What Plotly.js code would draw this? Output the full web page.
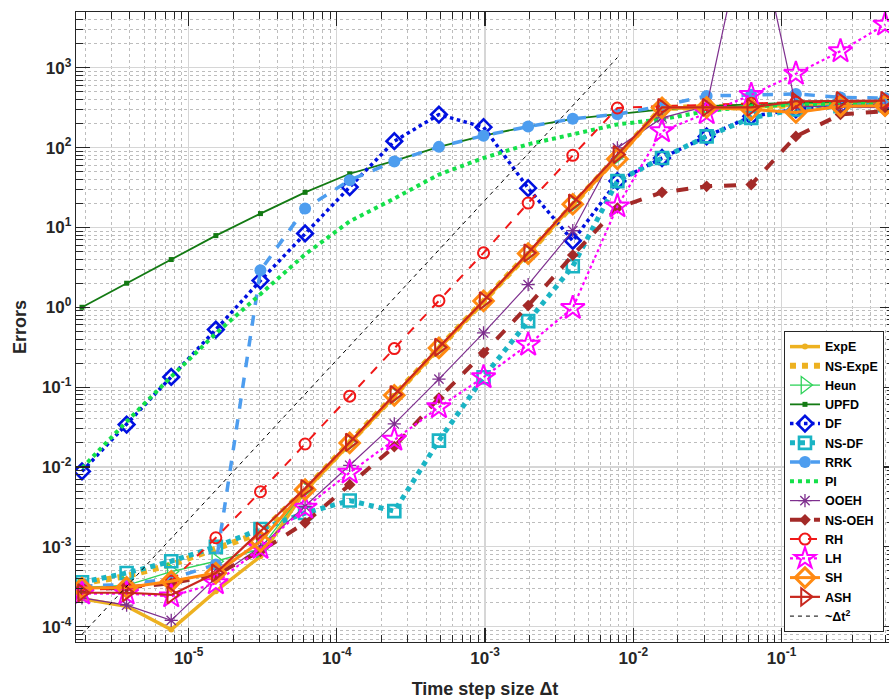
<!DOCTYPE html>
<html>
<head>
<meta charset="utf-8">
<script src="https://cdn.plot.ly/plotly-3.0.1.min.js"></script>
<style>
html,body{margin:0;padding:0;overflow:hidden;background:#fff;}
#chart{width:895px;height:699px;}
</style>
</head>
<body>
<div id="chart"></div>
<script>
// Time step sizes (0.5 / 2^k)
const dt = [1.9073e-6, 3.8147e-6, 7.6294e-6, 1.5259e-5, 3.0518e-5, 6.1035e-5, 1.2207e-4, 2.4414e-4,
            4.8828e-4, 9.7656e-4, 1.9531e-3, 3.9063e-3, 7.8125e-3, 0.015625, 0.03125, 0.0625, 0.125, 0.25, 0.5];

const expE   = [2.24e-4, 1.8e-4, 9.2e-5, 2.78e-4, 7.6e-4, 5.0e-3, 0.0195, 0.078, 0.305, 1.18, 4.6, 19, 75, 310, 315, 320, 340, 360, 365];
const nsExpE = [3.5e-4, 4.3e-4, 6.0e-4, 9.3e-4, 1.5e-3, 5.2e-3, 0.02, 0.079, 0.31, 1.2, 4.7, 19.5, 78, 315, 318, 320, 340, 360, 365];
const heun   = [3.1e-4, 3.3e-4, 4.9e-4, 6.6e-4, 9.4e-4, 5.2e-3, 0.02, 0.079, 0.31, 1.2, 4.7, 19.5, 78, 300, 320, 325, 350, 370, 375];
const upfd   = [1.0, 2.0, 3.96, 7.9, 14.9, 27.5, 47, 68, 102, 141, 183, 229, 262, 300, 330, 350, 365, 375, 380];
const df     = [8.8e-3, 0.034, 0.134, 0.525, 2.16, 8.4, 32, 120, 259, 180, 31, 6.8, 38, 74, 138, 246, 300, 330, 340];
const nsDf   = [3.6e-4, 4.7e-4, 6.6e-4, 1.0e-3, 1.67e-3, 2.65e-3, 3.8e-3, 2.8e-3, 0.0214, 0.133, 0.67, 3.26, 38, 74, 138, 235, 300, 330, 340];
const rrk    = [3.2e-4, 3.4e-4, 4.0e-4, 6.0e-4, 2.9, 17.2, 39, 67, 102, 141, 183, 229, 261, 334, 443, 460, 470, 425, 415];
const pi     = [0.0097, 0.037, 0.135, 0.47, 1.46, 4.6, 11.9, 23, 46, 74, 110, 146, 195, 226, 285, 330, 345, 350, 355];
const ooeh   = [2.3e-4, 1.86e-4, 1.2e-4, 4.1e-4, 1.0e-3, 3.2e-3, 0.0105, 0.0346, 0.126, 0.477, 1.92, 9.1, 99, 235, 330, 1.3e5, 330, 320, 315];
const nsOeh  = [2.9e-4, 3.1e-4, 3.5e-4, 4.5e-4, 8.8e-4, 2.0e-3, 6.0e-3, 0.018, 0.073, 0.268, 1.05, 4.5, 17.5, 27.5, 32.7, 34.4, 138, 260, 285];
const rh     = [2.9e-4, 3.0e-4, 3.7e-4, 1.3e-3, 4.9e-3, 0.0194, 0.077, 0.304, 1.21, 4.8, 20.2, 80, 313, 330, 345, 360, 370, 375, 380];
const lh     = [2.6e-4, 2.6e-4, 2.4e-4, 3.5e-4, 9.7e-4, 3.1e-3, 8.5e-3, 0.022, 0.056, 0.133, 0.34, 0.98, 18.4, 160, 270, 455, 840, 1607, 3470];
const sh     = [3.05e-4, 3.1e-4, 3.7e-4, 4.7e-4, 1.17e-3, 5.2e-3, 0.020, 0.079, 0.31, 1.2, 4.7, 19.5, 72, 315, 318, 300, 275, 330, 335];
const ash    = [2.66e-4, 2.66e-4, 2.5e-4, 4.7e-4, 1.57e-3, 5.4e-3, 0.0204, 0.081, 0.316, 1.21, 4.8, 20.2, 82, 319, 319, 319, 380, 388, 388];
// ~dt^2 reference line end points
const refX = [1.9073e-6, 7.8125e-3];
const refY = [8.0e-5, 1.34e3];

const names = ['ExpE','NS-ExpE','Heun','UPFD','DF','NS-DF','RRK','PI','OOEH','NS-OEH','RH','LH','SH','ASH'];
const xTickVals = [1e-5, 1e-4, 1e-3, 1e-2, 1e-1];
const xTickText = ['10<sup>-5</sup>','10<sup>-4</sup>','10<sup>-3</sup>','10<sup>-2</sup>','10<sup>-1</sup>'];
const yTickVals = [1e-4, 1e-3, 1e-2, 1e-1, 1e0, 1e1, 1e2, 1e3];
const yTickText = ['10<sup>-4</sup>','10<sup>-3</sup>','10<sup>-2</sup>','10<sup>-1</sup>','10<sup>0</sup>','10<sup>1</sup>','10<sup>2</sup>','10<sup>3</sup>'];

function tr(name, y, color, width, dash, symbol, size, mlw) {
  const t = {x: dt, y: y, name: name, type: 'scatter',
    mode: symbol ? 'lines+markers' : 'lines',
    line: {color: color, width: width, dash: dash}};
  if (symbol) t.marker = {symbol: symbol, size: size, color: color, line: {color: color, width: mlw}};
  return t;
}

const data = [
  tr(names[0], expE,   '#EDB120', 3.5, 'solid', 'circle', 6, 0),
  tr(names[1], nsExpE, '#EDB120', 6,   'dot',   null),
  tr(names[2], heun,   '#2FD35A', 1.3, 'solid', 'triangle-right-open', 15, 1.3),
  tr(names[3], upfd,   '#137A13', 1.8, 'solid', 'square', 5, 0),
  tr(names[4], df,     '#0010E0', 3.5, 'dot',   'diamond-open', 12, 2.6),
  tr(names[5], nsDf,   '#1AB4C4', 5,   'dot',   'square-open', 12, 2.6),
  tr(names[6], rrk,    '#4D9DEF', 3.5, 'dash',  'circle', 12, 0),
  tr(names[7], pi,     '#14E04A', 4,   'dot',   null),
  tr(names[8], ooeh,   '#7E2F8E', 1.2, 'solid', 'asterisk-open', 11, 1.3),
  tr(names[9], nsOeh,  '#A32A28', 4,   'dash',  'diamond', 9, 0),
  tr(names[10], rh,    '#F01818', 2,   'dash',  'circle-open', 11, 2),
  tr(names[11], lh,    '#FF00FF', 2.2, 'dot',   'star-open', 18, 2),
  tr(names[12], sh,    '#FF8A12', 3,   'solid', 'diamond-open', 15, 3),
  tr(names[13], ash,   '#C8281E', 2.2, 'solid', 'triangle-right-open', 15, 2),
  {x: refX, y: refY, name: '~\u0394t<sup>2</sup>', type: 'scatter', mode: 'lines',
   line: {color: '#000000', width: 1, dash: '4px,4px'}}
];

const fontFam = '"Liberation Sans", Arial, Helvetica, sans-serif';
const axisCommon = {
  type: 'log', showline: true, linecolor: '#262626', linewidth: 1.2, mirror: 'ticks',
  ticks: 'inside', ticklen: 14, tickwidth: 1.2, tickcolor: '#262626',
  showgrid: true, gridcolor: '#d6d6d6', gridwidth: 1.2, zeroline: false,
  tickfont: {family: fontFam, size: 17, color: '#262626', weight: 'bold'},
  minor: {dtick: 'D1', ticks: 'inside', ticklen: 7, tickwidth: 1, tickcolor: '#262626',
          showgrid: true, gridcolor: '#bdbdbd', griddash: 'dot', gridwidth: 1}
};

const layout = {
  width: 895, height: 699,
  margin: {l: 76, r: 1, t: 12, b: 57},
  paper_bgcolor: '#ffffff', plot_bgcolor: '#ffffff',
  showlegend: true,
  xaxis: Object.assign({}, axisCommon, {
    range: [-5.760, -0.241], tickmode: 'array', tickvals: xTickVals, ticktext: xTickText,
    title: {text: 'Time step size \u0394t', standoff: 15,
            font: {family: fontFam, size: 18, color: '#262626', weight: 'bold'}}
  }),
  yaxis: Object.assign({}, axisCommon, {
    range: [-4.1916, 3.6975], tickmode: 'array', tickvals: yTickVals, ticktext: yTickText,
    title: {text: 'Errors', standoff: 10,
            font: {family: fontFam, size: 18, color: '#262626', weight: 'bold'}}
  }),
  legend: {
    x: 0.8655, y: 0.0159, xanchor: 'left', yanchor: 'bottom',
    bgcolor: '#ffffff', bordercolor: '#262626', borderwidth: 1,
    font: {family: fontFam, size: 12.5, color: '#000000', weight: 'bold'},
    tracegroupgap: 0, traceorder: 'normal'
  }
};

Plotly.newPlot('chart', data, layout, {displayModeBar: false, staticPlot: true});
</script>
</body>
</html>
